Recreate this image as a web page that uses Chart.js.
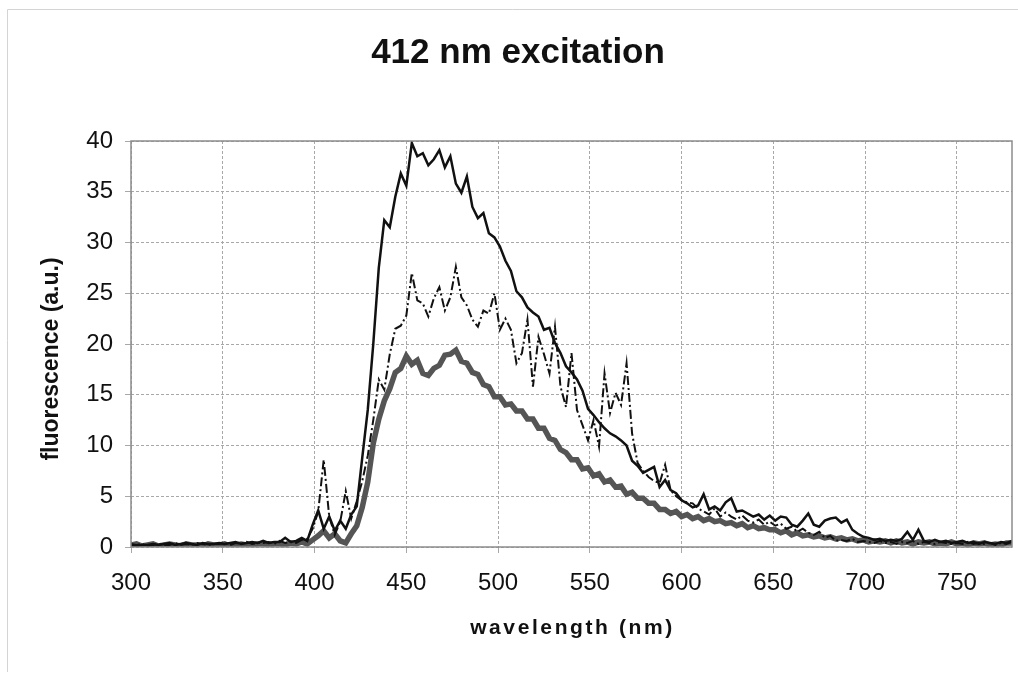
<!DOCTYPE html>
<html>
<head>
<meta charset="utf-8">
<script src="https://cdn.jsdelivr.net/npm/chart.js@4"></script>
<style>
  html, body { margin: 0; padding: 0; background: #fff; }
</style>
</head>
<body>
<canvas id="chart" width="1018" height="673"></canvas>
<script>
// ── 412 nm excitation spectra ──
const wavelengths = [
  300, 303, 306, 309, 312, 315, 318, 321, 324, 327,
  330, 333, 336, 339, 342, 345, 348, 351, 354, 357,
  360, 363, 366, 369, 372, 375, 378, 381, 384, 387,
  390, 393, 396, 399, 402, 405, 408, 411, 414, 417,
  420, 423, 426, 429, 432, 435, 438, 441, 444, 447,
  450, 453, 456, 459, 462, 465, 468, 471, 474, 477,
  480, 483, 486, 489, 492, 495, 498, 501, 504, 507,
  510, 513, 516, 519, 522, 525, 528, 531, 534, 537,
  540, 543, 546, 549, 552, 555, 558, 561, 564, 567,
  570, 573, 576, 579, 582, 585, 588, 591, 594, 597,
  600, 603, 606, 609, 612, 615, 618, 621, 624, 627,
  630, 633, 636, 639, 642, 645, 648, 651, 654, 657,
  660, 663, 666, 669, 672, 675, 678, 681, 684, 687,
  690, 693, 696, 699, 702, 705, 708, 711, 714, 717,
  720, 723, 726, 729, 732, 735, 738, 741, 744, 747,
  750, 753, 756, 759, 762, 765, 768, 771, 774, 777,
  780
];

// thin solid black trace
const solidTrace = [
  0.2, 0.1, 0.2, 0.2, 0.3, 0.2, 0.3, 0.4, 0.2, 0.3,
  0.4, 0.3, 0.2, 0.4, 0.3, 0.3, 0.4, 0.3, 0.4, 0.5,
  0.3, 0.4, 0.5, 0.4, 0.6, 0.4, 0.5, 0.5, 0.9, 0.5,
  0.6, 0.9, 0.6, 2.2, 3.6, 1.8, 3.0, 1.6, 2.6, 1.8,
  3.2, 4.0, 8.8, 13.5, 20.0, 27.5, 32.2, 31.5, 34.5, 36.8,
  35.6, 39.8, 38.5, 38.8, 37.6, 38.2, 39.1, 37.4, 38.5, 35.8,
  34.9, 36.5, 33.5, 32.4, 32.9, 30.9, 30.5, 29.6, 28.2, 27.2,
  25.2, 24.6, 23.6, 23.1, 22.7, 21.4, 21.6, 20.1, 19.1, 17.8,
  17.2, 16.5, 15.4, 13.6, 13.0, 12.3, 11.7, 11.2, 10.9, 10.5,
  10.0, 8.5, 8.0, 7.3, 7.6, 7.9, 5.9, 6.6, 5.6, 5.3,
  4.6, 4.3, 3.9, 4.1, 5.2, 3.7, 4.0, 3.6, 4.4, 4.8,
  3.5, 3.6, 3.3, 3.0, 3.2, 2.7, 3.1, 2.6, 3.0, 2.9,
  2.2, 2.0, 2.6, 3.3, 2.2, 2.0, 2.6, 2.8, 2.9, 2.4,
  2.7, 1.7, 1.3, 1.0, 0.9, 0.7, 0.8, 0.6, 0.7, 0.6,
  0.8, 1.5, 0.7, 1.7, 0.6, 0.5, 0.7, 0.5, 0.6, 0.4,
  0.5, 0.6, 0.4, 0.5, 0.3, 0.5, 0.4, 0.3, 0.5, 0.4,
  0.6
];

// dash-dot black trace
const dashDotTrace = [
  0.3, 0.2, 0.3, 0.1, 0.2, 0.3, 0.2, 0.2, 0.4, 0.2,
  0.3, 0.2, 0.4, 0.3, 0.2, 0.3, 0.3, 0.4, 0.2, 0.4,
  0.3, 0.5, 0.3, 0.4, 0.4, 0.5, 0.3, 0.6, 0.4, 0.5,
  0.4, 0.7, 0.8, 1.8, 3.5, 8.6, 3.0, 1.2, 2.5, 5.5,
  2.8, 4.5, 6.5, 9.0, 12.5, 16.5, 15.5, 19.0, 21.5, 21.8,
  22.8, 27.0, 24.3, 24.0, 22.7, 24.5, 25.6, 23.3, 24.6, 27.6,
  24.6, 23.8, 22.4, 21.7, 23.3, 23.0, 25.0, 21.4, 22.5, 21.4,
  18.1, 19.1, 22.4, 15.8, 20.7, 19.0, 17.1, 21.7, 15.8, 13.8,
  19.1, 13.5, 12.0, 10.5, 12.5, 9.9, 17.1, 13.2, 15.2, 14.0,
  18.1, 11.2, 8.3, 7.5, 6.9, 6.5, 6.3, 8.1, 5.6, 5.0,
  4.6, 4.4, 4.3, 3.8, 3.5, 3.2, 3.8, 3.0, 3.4, 3.0,
  2.7, 3.1, 2.6, 2.4, 2.7, 2.2, 2.5, 2.1, 2.3, 1.8,
  2.0, 1.5, 1.8, 1.4, 1.2, 1.5, 0.9, 1.1, 0.6, 0.7,
  0.6, 0.8, 0.5, 0.6, 0.5, 0.4, 0.6, 0.4, 0.5, 0.3,
  0.5, 0.4, 0.6, 0.3, 0.5, 0.4, 0.3, 0.5, 0.4, 0.3,
  0.4, 0.3, 0.5, 0.3, 0.4, 0.3, 0.4, 0.2, 0.4, 0.3,
  0.5
];

// thick grey trace
const greyTrace = [
  0.2, 0.3, 0.1, 0.2, 0.3, 0.1, 0.2, 0.3, 0.2, 0.1,
  0.3, 0.2, 0.2, 0.1, 0.3, 0.2, 0.2, 0.3, 0.1, 0.2,
  0.3, 0.2, 0.2, 0.3, 0.3, 0.2, 0.3, 0.3, 0.2, 0.4,
  0.3, 0.5, 0.3, 0.7, 1.1, 1.6, 0.9, 1.3, 0.6, 0.4,
  1.3, 2.1, 3.9, 6.4, 10.2, 12.6, 14.4, 15.6, 17.2, 17.6,
  18.8, 18.0, 18.4, 17.1, 16.9, 17.6, 17.9, 18.9, 19.0, 19.4,
  18.3, 18.1, 17.2, 17.0, 16.0, 15.8, 14.8, 14.8, 14.0, 14.1,
  13.4, 13.4, 12.6, 12.6, 11.7, 11.7, 10.7, 10.5, 9.6, 9.3,
  8.6, 8.6, 7.7, 7.8, 7.0, 7.2, 6.4, 6.6, 5.9, 6.0,
  5.2, 5.4, 4.8, 4.8, 4.3, 4.3, 3.7, 3.7, 3.3, 3.5,
  3.0, 3.2, 2.8, 3.0, 2.6, 2.8, 2.5, 2.6, 2.3, 2.4,
  2.1, 2.3, 1.9, 2.1, 1.8, 1.9, 1.7, 1.7, 1.4, 1.6,
  1.2, 1.4, 1.1, 1.2, 1.0, 1.1, 0.9, 1.0, 0.8, 0.9,
  0.7, 0.8, 0.6, 0.7, 0.5, 0.6, 0.5, 0.6, 0.4, 0.6,
  0.4, 0.5, 0.3, 0.5, 0.4, 0.5, 0.3, 0.4, 0.3, 0.5,
  0.3, 0.4, 0.2, 0.4, 0.3, 0.4, 0.2, 0.3, 0.2, 0.4,
  0.4
];

const xTicks = [300, 350, 400, 450, 500, 550, 600, 650, 700, 750];
const yTicks = [0, 5, 10, 15, 20, 25, 30, 35, 40];

const FONT = '"Liberation Sans", Arial, sans-serif';

const toPoints = vals => vals.map((v, i) => ({ x: wavelengths[i], y: v }));

const pagePlugin = {
  id: 'page',
  beforeDraw(chart) {
    const ctx = chart.ctx;
    ctx.save();
    ctx.fillStyle = '#fff';
    ctx.fillRect(0, 0, chart.width, chart.height);
    ctx.strokeStyle = '#d4d4d4';
    ctx.lineWidth = 1;
    ctx.beginPath();
    ctx.moveTo(7.5, 672);
    ctx.lineTo(7.5, 9.5);
    ctx.lineTo(1018, 9.5);
    ctx.stroke();
    ctx.restore();
  },
  afterDraw(chart) {
    const { ctx, chartArea: a } = chart;
    ctx.save();
    ctx.setLineDash([]);
    ctx.strokeStyle = '#8c8c8c';
    ctx.lineWidth = 1.5;
    ctx.strokeRect(a.left, a.top, a.right - a.left, a.bottom - a.top);
    ctx.fillStyle = '#111';
    ctx.textAlign = 'center';
    ctx.textBaseline = 'middle';
    // y axis title
    ctx.save();
    ctx.translate(52, 359);
    ctx.rotate(-Math.PI / 2);
    ctx.font = 'bold 23px ' + FONT;
    ctx.fillText('fluorescence (a.u.)', 0, 0);
    ctx.restore();
    // x axis title, spaced letters
    ctx.font = 'bold 21px ' + FONT;
    ctx.letterSpacing = '2.6px';
    ctx.fillText('wavelength (nm)', (a.left + a.right) / 2 + 1, 628);
    ctx.restore();
  }
};

new Chart(document.getElementById('chart'), {
  type: 'line',
  data: {
    datasets: [
      { label: 'solid', data: toPoints(solidTrace), borderColor: '#111', borderWidth: 2.5, pointRadius: 0, tension: 0 },
      { label: 'dash-dot', data: toPoints(dashDotTrace), borderColor: '#111', borderWidth: 2, borderDash: [9, 3, 2, 3], pointRadius: 0, tension: 0 },
      { label: 'grey', data: toPoints(greyTrace), borderColor: '#555', borderWidth: 5.5, pointRadius: 0, tension: 0 }
    ]
  },
  options: {
    responsive: false,
    animation: false,
    devicePixelRatio: 1,
    layout: { padding: { left: 24, right: 6, top: 13, bottom: 0 } },
    plugins: {
      legend: { display: false },
      tooltip: { enabled: false },
      title: {
        display: true,
        text: '412 nm excitation',
        color: '#111',
        font: { family: FONT, size: 35, weight: 'bold', lineHeight: 1.2 },
        padding: { top: 19, bottom: 67 }
      }
    },
    scales: {
      x: {
        type: 'linear',
        min: 300,
        max: 780,
        afterFit: s => { s.height = 126; },
        afterBuildTicks: s => { s.ticks = xTicks.map(v => ({ value: v })); },
        ticks: { color: '#111', font: { family: FONT, size: 24 }, padding: 16, maxRotation: 0, autoSkip: false },
        grid: { color: '#a8a8a8', lineWidth: 1, tickLength: 6 },
        border: { display: false, dash: [3, 2] }
      },
      y: {
        min: 0,
        max: 40,
        afterFit: s => { s.width = 107; },
        afterBuildTicks: s => { s.ticks = yTicks.map(v => ({ value: v })); },
        ticks: { color: '#111', font: { family: FONT, size: 24 }, padding: 12 },
        grid: { color: '#a8a8a8', lineWidth: 1, tickLength: 6 },
        border: { display: false, dash: [3, 2] }
      }
    }
  },
  plugins: [pagePlugin]
});
</script>
</body>
</html>
